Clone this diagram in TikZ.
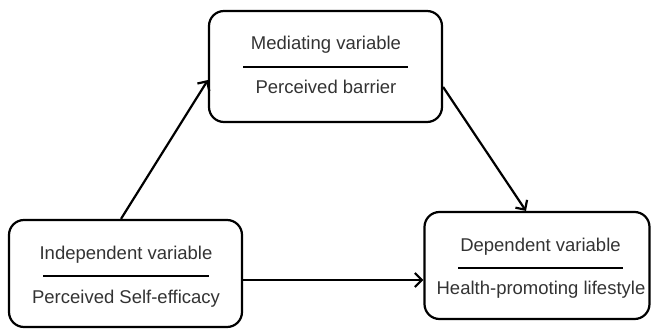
\documentclass[tikz,border=0pt]{standalone}
\usepackage{fontspec}
\setmainfont{Liberation Sans}
\usetikzlibrary{arrows.meta}
\begin{document}
\begin{tikzpicture}[x=1pt,y=-1pt,
  box/.style={draw, line width=2.2pt, rounded corners=15pt, minimum width=0pt},
  lbl/.style={font=\fontsize{18.5}{21}\selectfont, text=black!80, inner sep=0pt, anchor=base},
  sep/.style={line width=2.4pt},
  arr/.style={line width=2.2pt, -{Straight Barb[length=7pt,width=14pt,line width=2.2pt]}}]
\useasboundingbox (0,0) rectangle (651,329);
% boxes
\node[box, minimum width=233pt, minimum height=111pt] (med) at (325.5,66.5) {};
\node[box, minimum width=233pt, minimum height=107pt] (ind) at (125.5,273.5) {};
\node[box, minimum width=225pt, minimum height=107pt] (dep) at (537,265.5) {};
% texts
\node[lbl] (medt) at (326,50) {Mediating variable};
\draw[sep] (243,67) -- (408,67);
\node[lbl] (medb) at (326,94) {Perceived barrier};
\node[lbl] (indt) at (126,259) {Independent variable};
\draw[sep] (43,276) -- (209,276);
\node[lbl] (indb) at (126,303) {Perceived Self-efficacy};
\node[lbl] (dept) at (540.5,251) {Dependent variable};
\draw[sep] (458,268) -- (623,268);
\node[lbl] (depb) at (541,294) {Health-promoting lifestyle};
% arrows
\draw[arr] (ind.north -| 121,0) -- (med.west |- 0,80);
\draw[arr] (med.east |- 0,87) -- (dep.north -| 526,0);
\draw[arr] (ind.east |- 0,280) -- (dep.west |- 0,280);
\end{tikzpicture}
\end{document}
